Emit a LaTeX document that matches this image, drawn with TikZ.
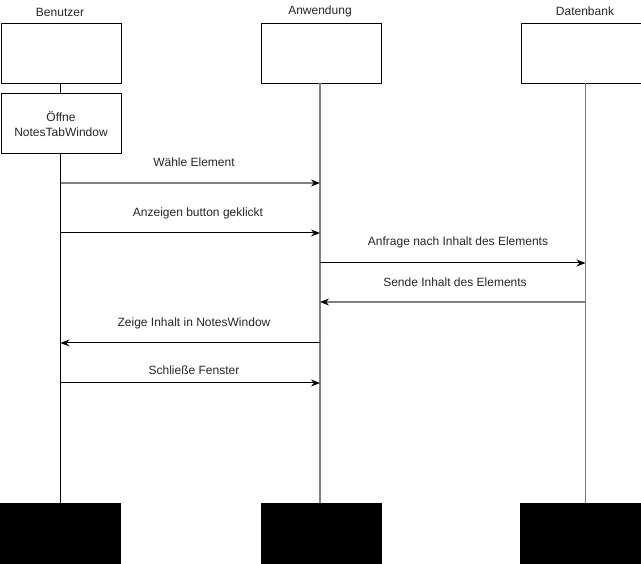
\documentclass[tikz,border=0pt]{standalone}
\usepackage{fontspec}
\setmainfont{Liberation Sans}
\usetikzlibrary{arrows.meta}
\begin{document}
\begin{tikzpicture}[x=1pt,y=-1pt,
  lbl/.style={font=\fontsize{12}{14}\selectfont, text=black!85, inner sep=0pt},
  headbox/.style={draw=black, line width=1pt, fill=white, minimum width=120pt, minimum height=60pt, inner sep=0pt},
  endbox/.style={fill=black, minimum width=121pt, minimum height=61pt, inner sep=0pt},
  life/.style={line width=1pt, black},
  lifeg/.style={line width=1.4pt, black!50},
  msg/.style={line width=1pt, -{Stealth[length=9pt,width=7pt]}},
  msgg/.style={line width=1.4pt, black!50, -{Stealth[length=9pt,width=7pt,color=black]}}
]
\useasboundingbox (0,0) rectangle (641,564);

% column heads
\node[lbl] (tUser) at (60,12) {Benutzer};
\node[lbl] (tApp) at (320,11) {Anwendung};
\node[lbl] (tDb) at (585,11) {Datenbank};
\node[headbox, anchor=north west] (hUser) at (0.5,23.5) {};
\node[headbox, anchor=north west] (hApp) at (260.5,23.5) {};
\node[headbox, anchor=north west] (hDb) at (520.5,23.5) {};

% terminating blocks
\node[endbox, anchor=north west] (eUser) at (0,503) {};
\node[endbox, anchor=north west] (eApp) at (261,503) {};
\node[endbox, anchor=north west] (eDb) at (520,503) {};

% lifelines
\coordinate (uTop) at (60.5,83.5);
\coordinate (uBot) at (60.5,503);
\coordinate (aTop) at (320,83.5);
\coordinate (aBot) at (320,503);
\coordinate (dTop) at (585.5,83.5);
\coordinate (dBot) at (585.5,503);
\draw[lifeg] (aTop) -- (aBot);
\draw[lifeg] (dTop) -- (dBot);
\draw[life] (uTop) -- (uBot);

% activation on the user lifeline
\node[headbox, anchor=north west, align=center, lbl, draw=black, line width=1pt] (open) at (0.5,93.5) {Öffne\\[1pt]NotesTabWindow};

% message anchors
\coordinate (u1) at (60.5,183); \coordinate (a1) at (320,183);
\coordinate (u2) at (60.5,233); \coordinate (a2) at (320,233);
\coordinate (a3) at (320,263); \coordinate (d3) at (585.5,263);
\coordinate (d4) at (585.5,302); \coordinate (a4) at (320,302);
\coordinate (a5) at (320,343); \coordinate (u5) at (60.5,343);
\coordinate (u6) at (60.5,383); \coordinate (a6) at (320,383);

% messages
\draw[msgg] (u1) -- (a1);
\node[lbl] (m1) at (194,162) {Wähle Element};
\draw[msg] (u2) -- (a2);
\node[lbl] (m2) at (198,213) {Anzeigen button geklickt};
\draw[msg] (a3) -- (d3);
\node[lbl] (m3) at (458,242) {Anfrage nach Inhalt des Elements};
\draw[msgg] (d4) -- (a4);
\node[lbl] (m4) at (455,282) {Sende Inhalt des Elements};
\draw[msg] (a5) -- (u5);
\node[lbl] (m5) at (194,323) {Zeige Inhalt in NotesWindow};
\draw[msg] (u6) -- (a6);
\node[lbl] (m6) at (194,370) {Schließe Fenster};
\end{tikzpicture}
\end{document}
